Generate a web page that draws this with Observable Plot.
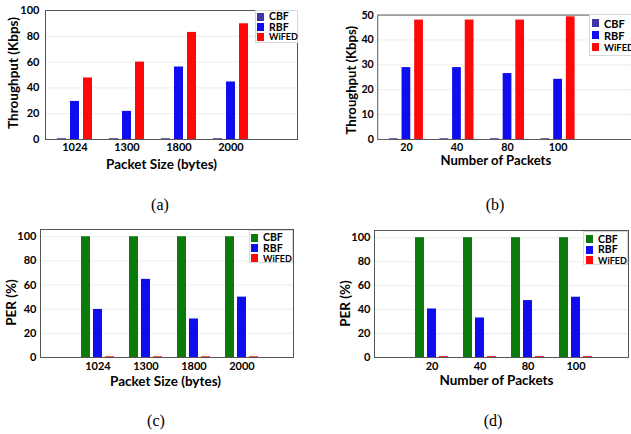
<!DOCTYPE html>
<html>
<head>
<meta charset="utf-8">
<script src="https://cdn.jsdelivr.net/npm/d3@7"></script>
<script src="https://cdn.jsdelivr.net/npm/@observablehq/plot@0.6"></script>
<style>
  html, body { margin: 0; padding: 0; background: #fff; }
  #fig { position: relative; width: 631px; height: 434px; overflow: hidden; background: #fff; }
  .panel { position: absolute; }
  .caption { position: absolute; width: 40px; text-align: center; font-family: "Liberation Serif", "Times New Roman", serif; font-size: 16px; line-height: 20px; color: #000; }
  .legend { position: absolute; box-sizing: border-box; border: 1px solid #d8d8d8; background: #fff; font-family: Lato, sans-serif; font-weight: bold; color: #000; }
  .legend .row { display: flex; align-items: center; overflow: visible; }
  .legend .row span { line-height: 1; }
  .legend .sw { width: 7px; height: 8px; margin-right: 5px; flex: none; }
</style>
</head>
<body>
<div id="fig"></div>
<script>
// ---------- data ----------
const series = ["CBF", "RBF", "WiFED"];
const packetSizes = ["1024", "1300", "1800", "2000"];
const packetCounts = ["20", "40", "80", "100"];

// (a) Throughput vs packet size (Kbps)
const thrSizeCBF = [0.6, 0.6, 0.6, 0.6];
const thrSizeRBF = [29.5, 21.8, 56.2, 44.6];
const thrSizeWiFED = [47.7, 60.0, 83.0, 89.7];

// (b) Throughput vs number of packets (Kbps)
const thrCountCBF = [0.3, 0.3, 0.3, 0.3];
const thrCountRBF = [28.9, 28.9, 26.5, 24.2];
const thrCountWiFED = [48.0, 48.0, 48.0, 49.3];

// (c) PER vs packet size (%)
const perSizeCBF = [100, 100, 100, 100];
const perSizeRBF = [39.8, 64.7, 31.9, 50.0];
const perSizeWiFED = [0.6, 0.6, 0.6, 0.6];

// (d) PER vs number of packets (%)
const perCountCBF = [100, 100, 100, 100];
const perCountRBF = [40.5, 33.0, 47.5, 50.3];
const perCountWiFED = [0.7, 0.7, 0.7, 0.7];

const yTicksThrSize = [0, 20, 40, 60, 80, 100];
const yTicksThrCount = [0, 10, 20, 30, 40, 50];
const yTicksPer = [0, 20, 40, 60, 80, 100];

const colorsThr = ["#4136a8", "#0d0df0", "#ff0808"];
const colorsPer = ["#0a7a0a", "#0d0df0", "#ff0808"];

// ---------- helpers ----------
function makeRows(groups, cbf, rbf, wifed) {
  const vals = [cbf, rbf, wifed];
  const rows = [];
  groups.forEach((g, i) => series.forEach((s, j) => rows.push({key: g + "|" + s, group: g, series: s, value: vals[j][i]})));
  return rows;
}
function makeKeys(groups) {
  const keys = [];
  groups.forEach((g, i) => {
    series.forEach(s => keys.push(g + "|" + s));
    if (i < groups.length - 1) keys.push("gap" + i);
  });
  return keys;
}

const fig = document.getElementById("fig");

function panel(cfg) {
  const rows = makeRows(cfg.groups, ...cfg.values);
  const keys = makeKeys(cfg.groups);
  const chart = Plot.plot({
    width: cfg.width,
    height: cfg.height,
    marginLeft: cfg.ml, marginRight: cfg.mr, marginTop: cfg.mt, marginBottom: cfg.mb,
    style: {fontFamily: "Lato, sans-serif", fontWeight: "bold", fontSize: "11px", color: "#000", background: "transparent", overflow: "visible"},
    x: {type: "band", domain: keys, paddingInner: cfg.pi, paddingOuter: cfg.po, align: cfg.align,
        tickSize: 0, tickPadding: cfg.xtp, label: null,
        ticks: keys.filter(k => k.endsWith("|RBF")),
        tickFormat: k => (k.endsWith("|RBF") ? k.split("|")[0] : "")},
    y: {domain: cfg.yDomain, ticks: cfg.yTicks, tickSize: 0, tickPadding: cfg.ytp, label: null},
    color: {domain: series, range: cfg.colors},
    marks: [
      Plot.ruleY(cfg.yTicks, {stroke: "#ececec"}),
      Plot.barY(rows, {x: "key", y: "value", fill: "series"}),
      Plot.frame({stroke: "#555"}),
      Plot.text([cfg.yLabel], {text: d => d, frameAnchor: "left", textAnchor: "middle", lineAnchor: "middle", rotate: -90, dx: cfg.ylDx, dy: cfg.ylDy, fontSize: 13.5}),
      Plot.text([cfg.xLabel], {text: d => d, frameAnchor: "bottom", textAnchor: "middle", lineAnchor: "middle", dx: cfg.xlDx, dy: cfg.xlDy, fontSize: 13.5})
    ]
  });
  const wrap = document.createElement("div");
  wrap.className = "panel";
  wrap.style.left = cfg.left + "px";
  wrap.style.top = cfg.top + "px";
  wrap.appendChild(chart);
  fig.appendChild(wrap);

  // legend (inside the frame, top-right)
  const lg = document.createElement("div");
  lg.className = "legend";
  const L = cfg.legend;
  lg.style.left = L.x + "px"; lg.style.top = L.y + "px";
  lg.style.width = L.w + "px"; lg.style.height = L.h + "px";
  lg.style.paddingLeft = L.pl + "px"; lg.style.paddingTop = L.pt + "px";
  series.forEach((s, j) => {
    const row = document.createElement("div");
    row.className = "row";
    row.style.height = L.pitch + "px";
    const sw = document.createElement("div");
    sw.className = "sw";
    sw.style.background = cfg.colors[j];
    const t = document.createElement("span");
    t.textContent = s;
    t.style.fontSize = (j === 2 ? L.fs2 : L.fs) + "px";
    row.appendChild(sw); row.appendChild(t);
    lg.appendChild(row);
  });
  fig.appendChild(lg);

  const cap = document.createElement("div");
  cap.className = "caption";
  cap.textContent = cfg.caption;
  cap.style.left = (cfg.capX - 20) + "px";
  cap.style.top = (cfg.capY - 10) + "px";
  fig.appendChild(cap);
}

panel({
  left: 0, top: 0, width: 315, height: 175, ml: 45, mr: 18, mt: 10, mb: 36,
  groups: packetSizes, values: [thrSizeCBF, thrSizeRBF, thrSizeWiFED], colors: colorsThr,
  pi: 0.27, po: 1.8, align: 0.2, xtp: 4, ytp: 6,
  yDomain: [0, 100], yTicks: yTicksThrSize,
  yLabel: "Throughput (Kbps)", ylDx: -32, ylDy: -2,
  xLabel: "Packet Size (bytes)", xlDx: -10, xlDy: 25,
  legend: {x: 255, y: 10, w: 43, h: 33, pl: 1, pt: 0.5, pitch: 10.2, fs: 10.5, fs2: 9},
  caption: "(a)", capX: 160, capY: 205
});

panel({
  left: 315, top: 0, width: 325, height: 175, ml: 64, mr: 0, mt: 15, mb: 32,
  groups: packetCounts, values: [thrCountCBF, thrCountRBF, thrCountWiFED], colors: colorsThr,
  pi: 0.28, po: 2.03, align: 0.177, xtp: 4, ytp: 4,
  yDomain: [0, 50], yTicks: yTicksThrCount,
  yLabel: "Throughput (Kbps)", ylDx: -27, ylDy: 3,
  xLabel: "Number of Packets", xlDx: -9, xlDy: 21.5,
  legend: {x: 589, y: 14, w: 50, h: 42, pl: 2, pt: 2, pitch: 12.2, fs: 11, fs2: 9.5},
  caption: "(b)", capX: 495, capY: 205
});

panel({
  left: 0, top: 220, width: 315, height: 175, ml: 40, mr: 22, mt: 9, mb: 38,
  groups: packetSizes, values: [perSizeCBF, perSizeRBF, perSizeWiFED], colors: colorsPer,
  pi: 0.29, po: 2.63, align: 0.53, xtp: 5, ytp: 4,
  yDomain: [0, 106], yTicks: yTicksPer,
  yLabel: "PER (%)", ylDx: -29, ylDy: 9,
  xLabel: "Packet Size (bytes)", xlDx: -1.5, xlDy: 24,
  legend: {x: 249, y: 230, w: 44, h: 33, pl: 1, pt: 1.5, pitch: 10.3, fs: 10.5, fs2: 9},
  caption: "(c)", capX: 156, capY: 421
});

panel({
  left: 315, top: 220, width: 316, height: 175, ml: 59, mr: 3, mt: 10, mb: 38,
  groups: packetCounts, values: [perCountCBF, perCountRBF, perCountWiFED], colors: colorsPer,
  pi: 0.24, po: 2.62, align: 0.53, xtp: 5, ytp: 4,
  yDomain: [0, 106], yTicks: yTicksPer,
  yLabel: "PER (%)", ylDx: -29, ylDy: 9.5,
  xLabel: "Number of Packets", xlDx: -5, xlDy: 23.5,
  legend: {x: 583, y: 231, w: 45, h: 34, pl: 2, pt: 1.5, pitch: 10.7, fs: 10.5, fs2: 9},
  caption: "(d)", capX: 493, capY: 421
});
</script>
</body>
</html>
